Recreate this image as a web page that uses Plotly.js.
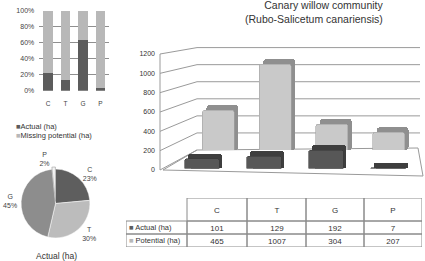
<!DOCTYPE html>
<html><head><meta charset="utf-8">
<script src="https://cdn.plot.ly/plotly-3.0.1.min.js"></script>
<style>html,body{margin:0;padding:0;background:#fff}#c{width:425px;height:261px}</style>
</head><body><div id="c"></div>
<script>
const categories = ['C', 'T', 'G', 'P'];
const actual = [101, 129, 192, 7];
const potential = [465, 1007, 304, 207];
const piePercentLabels = ['23%', '30%', '45%', '2%'];
const valueTicks = [0, 200, 400, 600, 800, 1000, 1200];
const pctTicks = [0, 20, 40, 60, 80, 100];
const rowLabels = ['Actual (ha)', 'Potential (ha)'];
const titleLines = ['Canary willow community', '(Rubo-Salicetum canariensis)'];
const legendLabels = ['Actual (ha)', 'Missing potential (ha)'];
const pieTitle = 'Actual (ha)';

const W = 425, H = 261;
const fx = p => p / W;
const fy = p => 1 - p / H;
const FONT = 'Liberation Sans, Arial, sans-serif';
const C_DARK = '#5c5c5c', C_LIGHT = '#b8b8b8';
const GRID = '#8a8a8a';

// share of actual within potential (percent) for the stacked 100% chart
const actualPct = actual.map((a, i) => a / potential[i] * 100);
const missingPct = actualPct.map(p => 100 - p);

// geometry of pseudo-3D chart (pixels)
const BACK = {x0: 190, x1: 417, yb: 150, yt: 47.6, dx: 4, dy: 5};
const FRONT = {x0: 171, x1: 419, yb: 168.5, yt: 54, dx: 3, dy: 5};
const LEFT = {x: 160, yb: 170, yt: 54};
const WALL_X = 197, WALL_R = 420;
const VMAX = 1200;

// table geometry (pixels): column edges and row edges (bottom -> top)
const TBL = {x0: 126, x1: 422, y0: 247, y1: 198};
const colEdges = [0, 61, 121, 180, 238, 296];
const rowEdges = [0, 13, 26, 49];

const cat = {type: 'category', categoryarray: categories, range: [-0.5, 3.5], visible: false, fixedrange: true};
const val = {range: [0, VMAX], visible: false, fixedrange: true};

// depth (extrusion) axes: same value scale, shifted right/up, extended down to the floor
function depthAxes(g) {
  const u = VMAX / (g.yb - g.yt);              // data units per pixel
  return {
    base: -g.dy * u,
    x: Object.assign({}, cat, {domain: [fx(g.x0 + g.dx), fx(g.x1 + g.dx)]}),
    y: Object.assign({}, val, {domain: [fy(g.yb), fy(g.yt - g.dy)], range: [-g.dy * u, VMAX]})
  };
}
const backDepth = depthAxes(BACK);
const frontDepth = depthAxes(FRONT);

// table content built from data (rows bottom -> top: Potential, Actual, header)
const tableText = [
  [''].concat(potential.map(String)),
  [''].concat(actual.map(String)),
  [''].concat(categories)
];
const tableZ = tableText.map(r => r.map(() => 0));

const traces = [
  {type: 'bar', x: categories, y: actualPct, xaxis: 'x', yaxis: 'y', marker: {color: C_DARK}, width: 0.57, name: legendLabels[0]},
  {type: 'bar', x: categories, y: missingPct, xaxis: 'x', yaxis: 'y', marker: {color: C_LIGHT}, width: 0.57, name: legendLabels[1]},
  {type: 'bar', x: categories, y: potential.map(v => v - backDepth.base), base: backDepth.base, xaxis: 'x3', yaxis: 'y3', width: 0.56,
   marker: {color: '#8f8f8f', cornerradius: 3}},
  {type: 'bar', x: categories, y: potential, xaxis: 'x4', yaxis: 'y4', width: 0.56,
   marker: {color: '#c9c9c9', cornerradius: 2, line: {color: '#a4a4a4', width: 0.6}}},
  {type: 'bar', x: categories, y: actual.map(v => v - frontDepth.base), base: frontDepth.base, xaxis: 'x5', yaxis: 'y5', width: 0.56,
   marker: {color: '#3e3e3e', cornerradius: 3}},
  {type: 'bar', x: categories, y: actual, xaxis: 'x6', yaxis: 'y6', width: 0.56,
   marker: {color: '#575757', cornerradius: 2, line: {color: '#3a3a3a', width: 0.6}}},
  {type: 'scatter', x: [], y: [], xaxis: 'x7', yaxis: 'y7'},
  {type: 'heatmap', xaxis: 'x8', yaxis: 'y8', x: colEdges, y: rowEdges, z: tableZ, text: tableText,
   texttemplate: '%{text}', textfont: {size: 8, color: '#333', family: FONT},
   colorscale: [[0, '#fff'], [1, '#fff']], zmin: 0, zmax: 1, showscale: false, hoverinfo: 'skip'},
  {type: 'pie', labels: categories, values: actual, text: piePercentLabels, sort: false, direction: 'clockwise', rotation: 0,
   domain: {x: [fx(19), fx(92)], y: [fy(240), fy(167)]},
   marker: {colors: ['#5e5e5e', '#bcbcbc', '#8d8d8d', '#f4f4f4'], line: {color: ['#fff', '#fff', '#fff', '#9a9a9a'], width: [0.5, 0.5, 0.5, 0.6]}},
   pull: [0, 0, 0, 0.06],
   textposition: 'outside', texttemplate: '%{label}<br>%{text}',
   textfont: {size: 7, color: '#444', family: FONT}, outsidetextfont: {size: 7, color: '#444', family: FONT},
   hoverinfo: 'none'}
];

// pseudo-3D frame + gridlines
const yBack = v => BACK.yb - v / VMAX * (BACK.yb - BACK.yt);
const yLeft = v => LEFT.yb - v / VMAX * (LEFT.yb - LEFT.yt);
const line = {color: '#9a9a9a', width: 1};
const shapes = [
  {type: 'path', xref: 'paper', yref: 'paper', layer: 'below',
   path: `M${fx(163)},${fy(170)} L${fx(423)},${fy(176)} L${fx(418)},${fy(148)} L${fx(WALL_X)},${fy(yBack(0))} Z`,
   fillcolor: '#fff', line: {color: '#9a9a9a', width: 1}},
  {type: 'line', xref: 'paper', yref: 'paper', layer: 'below', x0: fx(LEFT.x), x1: fx(LEFT.x), y0: fy(LEFT.yb), y1: fy(LEFT.yt), line: line}
];
valueTicks.forEach(v => {
  shapes.push({type: 'line', xref: 'paper', yref: 'paper', layer: 'below',
    x0: fx(LEFT.x), y0: fy(yLeft(v)), x1: fx(WALL_X), y1: fy(yBack(v)), line: line});
  if (v > 0) shapes.push({type: 'line', xref: 'paper', yref: 'paper', layer: 'below',
    x0: fx(WALL_X), y0: fy(yBack(v)), x1: fx(WALL_R), y1: fy(yBack(v)), line: line});
});
// table cell borders (skip the empty top-left cell)
for (let r = 0; r < rowEdges.length - 1; r++) {
  for (let c = 0; c < colEdges.length - 1; c++) {
    if (r === rowEdges.length - 2 && c === 0) continue;
    shapes.push({type: 'rect', xref: 'x8', yref: 'y8', layer: 'above',
      x0: colEdges[c], x1: colEdges[c + 1], y0: rowEdges[r], y1: rowEdges[r + 1],
      line: {color: GRID, width: 1}, fillcolor: 'rgba(0,0,0,0)'});
  }
}

const layout = {
  width: W, height: H, margin: {l: 0, r: 0, t: 0, b: 0},
  paper_bgcolor: '#fff', plot_bgcolor: 'rgba(0,0,0,0)',
  showlegend: false, barmode: 'stack',
  font: {family: FONT, color: '#333', size: 7},
  xaxis: {domain: [fx(39.25), fx(109.25)], anchor: 'y', type: 'category', categoryarray: categories, range: [-0.5, 3.5],
          showgrid: false, zeroline: false, showline: false, ticks: '', ticklabelstandoff: 8,
          tickfont: {size: 6.5, color: '#444'}, fixedrange: true},
  yaxis: {domain: [fy(90.7), fy(11)], anchor: 'x', range: [0, 100], tickvals: pctTicks, ticktext: pctTicks.map(v => v + '%'),
          showgrid: true, gridcolor: '#8f8f8f', gridwidth: 1, zeroline: false, showline: false, ticks: '',
          ticklabelstandoff: 4, tickfont: {size: 7, color: '#444'}, fixedrange: true},
  xaxis3: Object.assign({}, backDepth.x, {anchor: 'y3'}),
  yaxis3: Object.assign({}, backDepth.y, {anchor: 'x3'}),
  xaxis4: Object.assign({}, cat, {domain: [fx(BACK.x0), fx(BACK.x1)], anchor: 'y4'}),
  yaxis4: Object.assign({}, val, {domain: [fy(BACK.yb), fy(BACK.yt)], anchor: 'x4'}),
  xaxis5: Object.assign({}, frontDepth.x, {anchor: 'y5'}),
  yaxis5: Object.assign({}, frontDepth.y, {anchor: 'x5'}),
  xaxis6: Object.assign({}, cat, {domain: [fx(FRONT.x0), fx(FRONT.x1)], anchor: 'y6'}),
  yaxis6: Object.assign({}, val, {domain: [fy(FRONT.yb), fy(FRONT.yt)], anchor: 'x6'}),
  xaxis7: {domain: [fx(LEFT.x), fx(LEFT.x + 5)], anchor: 'y7', visible: false, fixedrange: true},
  yaxis7: {domain: [fy(LEFT.yb), fy(LEFT.yt)], anchor: 'x7', range: [0, VMAX], tickvals: valueTicks,
           showgrid: false, zeroline: false, showline: false, ticks: '', ticklabelstandoff: 4,
           tickfont: {size: 7, color: '#333'}, fixedrange: true},
  xaxis8: {domain: [fx(TBL.x0), fx(TBL.x1)], anchor: 'y8', range: [colEdges[0], colEdges[colEdges.length - 1]], visible: false, fixedrange: true},
  yaxis8: {domain: [fy(TBL.y0), fy(TBL.y1)], anchor: 'x8', range: [rowEdges[0], rowEdges[rowEdges.length - 1]], visible: false, fixedrange: true},
  shapes: shapes,
  annotations: [
    {xref: 'paper', yref: 'paper', x: fx(384), y: fy(11.5), xanchor: 'right', yanchor: 'middle', align: 'right', borderpad: 0,
     text: titleLines.join('<br>'), showarrow: false, font: {size: 10.5, color: '#333'}},
    {xref: 'paper', yref: 'paper', x: fx(14), y: fy(126), xanchor: 'left', yanchor: 'middle', showarrow: false,
     text: `<span style="color:${C_DARK}">■</span>${legendLabels[0]}`, font: {size: 7.5, color: '#333'}},
    {xref: 'paper', yref: 'paper', x: fx(14), y: fy(135), xanchor: 'left', yanchor: 'middle', showarrow: false,
     text: `<span style="color:${C_LIGHT}">■</span>${legendLabels[1]}`, font: {size: 7.5, color: '#333'}},
    {xref: 'paper', yref: 'paper', x: fx(56), y: fy(256), xanchor: 'center', yanchor: 'middle', showarrow: false,
     text: pieTitle, font: {size: 8.5, color: '#333'}},
    {xref: 'x8', yref: 'y8', x: colEdges[0] + 1, y: (rowEdges[1] + rowEdges[2]) / 2, xanchor: 'left', yanchor: 'middle', showarrow: false,
     text: `<span style="color:${C_DARK}">■</span> ${rowLabels[0]}`, font: {size: 7.5, color: '#333'}},
    {xref: 'x8', yref: 'y8', x: colEdges[0] + 1, y: (rowEdges[0] + rowEdges[1]) / 2, xanchor: 'left', yanchor: 'middle', showarrow: false,
     text: `<span style="color:${C_LIGHT}">■</span> ${rowLabels[1]}`, font: {size: 7.5, color: '#333'}}
  ]
};

Plotly.newPlot('c', traces, layout, {staticPlot: true, displayModeBar: false});
</script>
</body></html>
